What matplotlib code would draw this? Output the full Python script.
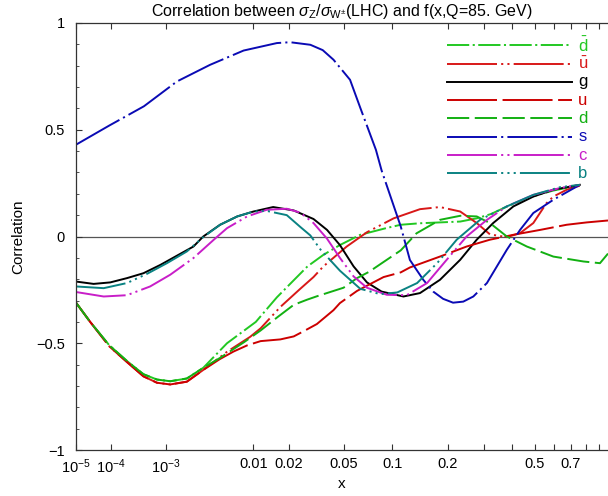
import numpy as np
import matplotlib
matplotlib.use('Agg')
import matplotlib.pyplot as plt

plt.rcParams['font.family'] = ['Liberation Sans', 'DejaVu Sans']
plt.rcParams['mathtext.fontset'] = 'custom'
plt.rcParams['mathtext.rm'] = 'Liberation Sans'
plt.rcParams['mathtext.it'] = 'Liberation Sans:italic'
plt.rcParams['mathtext.bf'] = 'Liberation Sans:bold'
plt.rcParams['lines.scale_dashes'] = False

# data
x_lo = [1e-5, 2.91e-5, 9.26e-5, 2.25e-4, 4.41e-4, 7.32e-4, 1.15e-3, 1.92e-3, 3.04e-3]
green_lo = [-0.31, -0.40, -0.51, -0.585, -0.645, -0.670, -0.678, -0.665, -0.615]
red_lo = [-0.31, -0.40, -0.515, -0.59, -0.655, -0.685, -0.693, -0.68, -0.625]

dbar_x = x_lo + [5.53e-3, 0.0105, 0.016, 0.0219, 0.0279, 0.0364, 0.0473, 0.0642, 0.0931, 0.112,
                 0.143, 0.182, 0.23, 0.276, 0.321, 0.379, 0.48, 0.595, 0.757]
dbar_y = green_lo + [-0.50, -0.40, -0.285, -0.205, -0.14, -0.086, -0.04, 0.008, 0.04, 0.055,
                     0.062, 0.066, 0.07, 0.085, 0.105, 0.14, 0.185, 0.215, 0.24]

ubar_x = x_lo + [5.53e-3, 9.31e-3, 0.0116, 0.0171, 0.0246, 0.0309, 0.0364, 0.0525, 0.0707, 0.102,
                 0.143, 0.182, 0.23, 0.276, 0.318, 0.379, 0.433, 0.493, 0.559, 0.596, 0.674, 0.758]
ubar_y = red_lo + [-0.54, -0.47, -0.43, -0.33, -0.245, -0.19, -0.14, -0.047, 0.02, 0.085,
                   0.128, 0.138, 0.117, 0.063, 0.01, -0.003, 0.016, 0.063, 0.156, 0.187, 0.219, 0.238]

g_x = [1e-5, 3.65e-5, 9.71e-5, 2.2e-4, 4.41e-4, 8.25e-4, 1.42e-3, 2.32e-3, 3.04e-3, 4.68e-3, 7.01e-3,
       0.01, 0.0149, 0.0219, 0.0277, 0.0309, 0.0386, 0.0473, 0.0582, 0.0707, 0.0867, 0.116, 0.143,
       0.182, 0.23, 0.276, 0.329, 0.405, 0.493, 0.596, 0.758]
g_y = [-0.211, -0.222, -0.215, -0.195, -0.172, -0.133, -0.090, -0.047, 0.0, 0.055, 0.094,
       0.117, 0.138, 0.122, 0.095, 0.082, 0.031, -0.04, -0.14, -0.215, -0.258, -0.281, -0.265,
       -0.203, -0.109, -0.015, 0.063, 0.141, 0.187, 0.219, 0.242]

u_x = x_lo + [4.62e-3, 6.43e-3, 8.73e-3, 0.0116, 0.0171, 0.0219, 0.0246, 0.0277, 0.0327, 0.0428, 0.0473,
              0.0612, 0.073, 0.0891, 0.112, 0.126, 0.182, 0.247, 0.318, 0.405, 0.527, 0.674, 0.806, 0.968]
u_y = red_lo + [-0.575, -0.539, -0.51, -0.49, -0.482, -0.468, -0.452, -0.435, -0.41, -0.345, -0.312,
                -0.255, -0.225, -0.19, -0.168, -0.145, -0.094, -0.047, -0.015, 0.008, 0.031, 0.055, 0.066, 0.075]

d_x = x_lo + [4.62e-3, 8.16e-3, 0.0116, 0.016, 0.0219, 0.0277, 0.0327, 0.05, 0.0612, 0.073, 0.0851,
              0.112, 0.137, 0.182, 0.23, 0.276, 0.318, 0.379, 0.463, 0.596, 0.783, 0.904, 0.968]
d_y = green_lo + [-0.57, -0.495, -0.44, -0.38, -0.32, -0.296, -0.28, -0.24, -0.195, -0.165, -0.13,
                  -0.065, 0.015, 0.078, 0.097, 0.094, 0.063, 0.0, -0.047, -0.094, -0.117, -0.125, -0.08]

s_x = [1e-5, 9.26e-5, 4.5e-4, 1.42e-3, 3.63e-3, 8.08e-3, 0.016, 0.0205, 0.0293, 0.036, 0.0428, 0.0552,
       0.0642, 0.0802, 0.0867, 0.112, 0.126, 0.149, 0.168, 0.189, 0.212, 0.238, 0.266, 0.308, 0.379,
       0.433, 0.493, 0.596, 0.758]
s_y = [0.43, 0.52, 0.61, 0.726, 0.804, 0.871, 0.906, 0.910, 0.898, 0.873, 0.828, 0.734,
       0.603, 0.406, 0.31, 0.047, -0.11, -0.203, -0.258, -0.292, -0.31, -0.305, -0.281, -0.218, -0.062,
       0.031, 0.11, 0.172, 0.242]

c_x = [1e-5, 6.75e-5, 2.2e-4, 5.7e-4, 1.15e-3, 2.32e-3, 4.0e-3, 5.53e-3, 8.73e-3, 0.0131, 0.0193,
       0.0246, 0.0309, 0.0386, 0.0473, 0.0582, 0.0707, 0.0931, 0.121, 0.156, 0.197, 0.247, 0.308,
       0.379, 0.493, 0.634, 0.758]
c_y = [-0.26, -0.281, -0.275, -0.234, -0.179, -0.101, -0.015, 0.039, 0.094, 0.125, 0.130,
       0.112, 0.063, -0.01, -0.1, -0.187, -0.24, -0.273, -0.275, -0.218, -0.109, 0.0, 0.078,
       0.141, 0.195, 0.227, 0.242]

b_x = [1e-5, 6.75e-5, 2.2e-4, 5.06e-4, 1.03e-3, 1.92e-3, 3.04e-3, 4.68e-3, 7.01e-3, 0.01, 0.0131,
       0.0193, 0.0246, 0.0293, 0.0346, 0.0473, 0.0642, 0.0851, 0.107, 0.138, 0.176, 0.221, 0.286,
       0.379, 0.493, 0.634, 0.758]
b_y = [-0.234, -0.242, -0.218, -0.175, -0.125, -0.07, -0.003, 0.055, 0.094, 0.117, 0.12,
       0.10, 0.045, 0.005, -0.06, -0.16, -0.245, -0.27, -0.262, -0.218, -0.125, -0.015, 0.078,
       0.141, 0.195, 0.231, 0.242]

labels = [r'$\bar{\mathrm{d}}$', r'$\bar{\mathrm{u}}$', 'g', 'u', 'd', 's', 'c', 'b']
series_x = [dbar_x, ubar_x, g_x, u_x, d_x, s_x, c_x, b_x]
series_y = [dbar_y, ubar_y, g_y, u_y, d_y, s_y, c_y, b_y]
colors = ['#22c822', '#d81818', '#000000', '#cc0000', '#12b012', '#0a0ab4', '#c81ec8', '#0a8282']
dashes = [(16, 2.5, 1.5, 2.5),
          (36, 3, 1.5, 3, 1.5, 3),
          None,
          (36, 4),
          (16, 4),
          (36, 3, 1.5, 3),
          (36, 3, 1.5, 3, 1.5, 3),
          (36, 3, 1.5, 3, 1.5, 3, 1.5, 3)]

xticks = [1e-5, 1e-4, 1e-3, 0.01, 0.02, 0.05, 0.1, 0.2, 0.3, 0.4, 0.5, 0.6, 0.7, 0.8, 0.9]
xticklabels = ['$10^{-5}$', '$10^{-4}$', '$10^{-3}$', '0.01', '0.02', '0.05', '0.1', '0.2',
               '', '', '0.5', '', '0.7', '', '']


def fwd(x):
    return np.power(np.clip(x, 1e-12, None), 0.2)


def inv(u):
    return np.power(np.clip(u, 0, None), 5)


fig = plt.figure(figsize=(6.08, 4.96), dpi=100)
ax = fig.add_axes([76/608, 46/496, 532/608, 427/496])
ax.set_xscale('function', functions=(fwd, inv))

ax.axhline(0, color='#555555', lw=0.9, zorder=1)

for xs, ys, col, ds in zip(series_x, series_y, colors, dashes):
    line, = ax.plot(xs, ys, color=col, lw=1.4, zorder=2)
    if ds is not None:
        line.set_dashes(ds)

# legend drawn by hand
for i, (lab, col, ds) in enumerate(zip(labels, colors, dashes)):
    yy = 0.948 - i * 0.0429
    line, = ax.plot([0.697, 0.932], [yy, yy], transform=ax.transAxes, color=col, lw=1.4)
    if ds is not None:
        line.set_dashes(ds)
    ax.text(0.944, yy, lab, transform=ax.transAxes, color=col, fontsize=12,
            ha='left', va='center')

ax.set_xlim(1e-5, 0.968)
ax.set_ylim(-1, 1)
ax.set_xticks(xticks)
ax.set_xticklabels(xticklabels)
ax.xaxis.set_minor_locator(matplotlib.ticker.NullLocator())
ax.set_yticks([-1, -0.5, 0, 0.5, 1])
ax.set_yticklabels(['\u22121', '\u22120.5', '0', '0.5', '1'])
ax.set_yticks(np.arange(-1, 1.01, 0.1), minor=True)

ax.tick_params(axis='both', which='major', direction='in', length=4, width=0.8,
               labelsize=10.5, color='#333333')
ax.tick_params(axis='y', which='minor', direction='in', length=2, width=0.6, color='#333333')
ax.tick_params(axis='x', top=True, pad=5)
ax.tick_params(axis='y', pad=8)

ax.spines['right'].set_visible(False)
for sp in ['left', 'bottom', 'top']:
    ax.spines[sp].set_color('#333333')
    ax.spines[sp].set_linewidth(0.9)

ax.set_xlabel('x', fontsize=11, labelpad=1)
ax.set_ylabel('Correlation', fontsize=11, labelpad=8)
ax.set_title(r'Correlation between $\sigma_{\mathrm{Z}}/\sigma_{\mathrm{W^{\pm}}}$(LHC) and f(x,Q=85. GeV)',
             fontsize=11.5, pad=5)

fig.savefig('out.png', dpi=100)
